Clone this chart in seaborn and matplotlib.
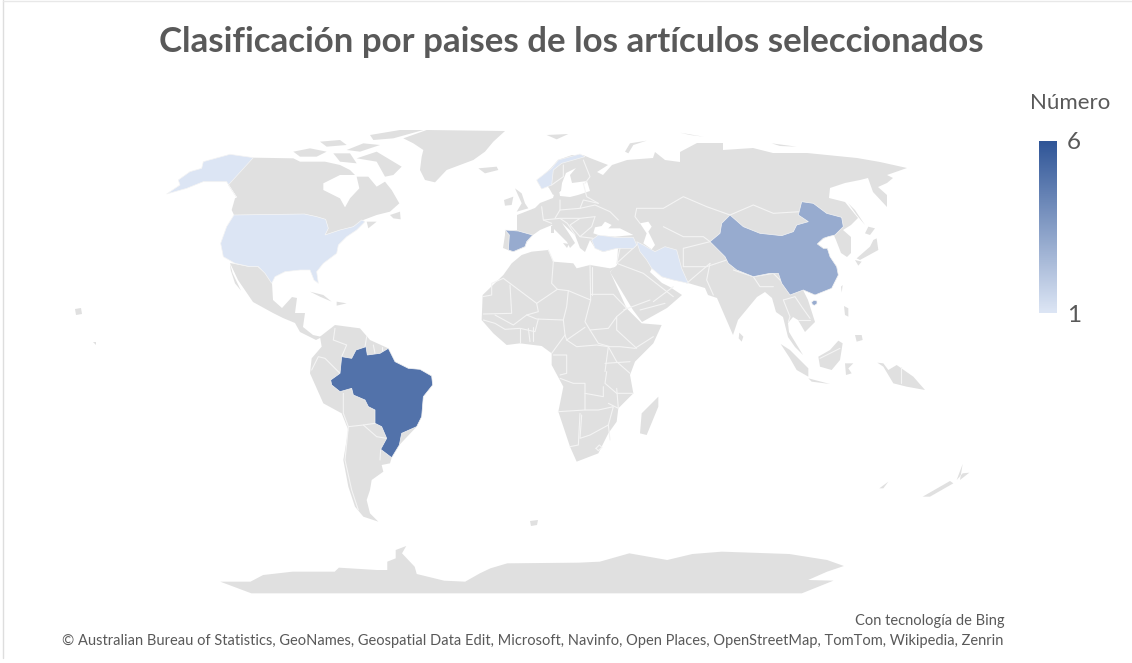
import numpy as np
import matplotlib
matplotlib.use("Agg")
import matplotlib.pyplot as plt
from matplotlib.colors import Normalize
import seaborn as sns


def crop(x0, y0, pts, sx=3, sy=3):
    return [(x0 + a / sx, y0 + b / sy) for a, b in pts]


TITLE = "Clasificación por paises de los artículos seleccionados"
LEGEND_TITLE = "Número"
LEGEND_TICKS = ["6", "1"]
BING = "Con tecnología de Bing"
CREDITS = ("© Australian Bureau of Statistics, GeoNames, Geospatial Data Edit, Microsoft, "
           "Navinfo, Open Places, OpenStreetMap, TomTom, Wikipedia, Zenrin")

countries = ["Brasil", "China", "España", "Estados Unidos", "Noruega", "Turquía", "Irán"]
articles = [5, 3, 3, 1, 1, 1, 1]
scale_min, scale_max = 1, 6

# --- selected countries ---
brazil = crop(280, 290, [(185, 200), (215, 205), (228, 180), (258, 170), (262, 195), (300, 190), (325, 175),
                         (345, 215), (385, 235), (420, 238), (455, 258), (458, 285), (430, 320), (425, 380),
                         (410, 410), (365, 430), (358, 465), (335, 503), (302, 478), (320, 445), (305, 410),
                         (285, 400), (285, 360), (265, 350), (255, 330), (220, 315), (215, 295), (180, 305),
                         (155, 285), (152, 270), (180, 250)])
china = crop(540, 120, [(570, 285), (610, 320), (660, 340), (725, 347), (760, 335), (770, 315), (805, 305),
                        (775, 285), (785, 245), (820, 250), (860, 280), (905, 292), (910, 320), (885, 345),
                        (865, 350), (850, 355), (832, 372), (850, 385), (862, 385), (870, 410), (890, 440),
                        (895, 465), (875, 505), (825, 525), (790, 510), (750, 525), (725, 490), (715, 460),
                        (690, 460), (640, 470), (590, 450), (565, 430), (555, 410), (510, 365), (540, 340),
                        (545, 310)])
hainan = crop(540, 120, [(815, 546), (822, 541), (831, 543), (831, 551), (824, 556), (817, 554)])
spain = crop(160, 120, [(1035, 330), (1075, 333), (1118, 345), (1100, 365), (1095, 380), (1060, 395), (1045, 390),
                        (1048, 345)])
usa = crop(160, 120, [(222, 285), (433, 282), (470, 290), (497, 298), (505, 325), (495, 345), (540, 330),
                      (580, 320), (605, 300), (615, 305), (590, 330), (560, 350), (535, 375), (530, 400),
                      (490, 430), (470, 455), (475, 490), (462, 480), (450, 450), (420, 450), (375, 455),
                      (345, 470), (335, 490), (315, 460), (295, 440), (270, 440), (225, 430), (190, 410),
                      (182, 370), (200, 320)])
alaska = crop(160, 120, [(280, 113), (210, 103), (130, 125), (125, 145), (90, 155), (55, 180), (60, 195),
                         (20, 222), (80, 205), (130, 185), (200, 185), (230, 232), (205, 195)])
norway = crop(480, 140, [(170, 120), (215, 85), (235, 60), (300, 42), (315, 50), (280, 60), (245, 70),
                         (220, 90), (215, 135), (185, 147)])
turkey = crop(540, 120, [(155, 360), (175, 345), (225, 352), (280, 352), (290, 375), (280, 385), (230, 385),
                         (190, 395), (165, 385)])
iran = crop(540, 120, [(290, 365), (310, 375), (345, 395), (375, 380), (410, 390), (425, 445), (445, 490),
                       (400, 480), (365, 470), (335, 445), (320, 420), (300, 395)])
selected = {"Brasil": [brazil], "China": [china, hainan], "España": [spain], "Estados Unidos": [usa, alaska],
            "Noruega": [norway], "Turquía": [turkey], "Irán": [iran]}

# --- rest of the land ---
eurasia = [(505, 231), (517, 230), (517, 220), (517, 215), (535, 208), (540, 203), (553, 198), (555, 191),
           (559, 190), (560, 196), (570, 197), (578, 195), (590, 191), (587, 181), (572, 183), (570, 175),
           (576, 168), (566, 173), (562, 183), (561, 191), (553, 195), (549, 188), (546, 185), (542, 189),
           (537, 181), (551, 168), (558, 160), (572, 155), (583, 155), (590, 158), (608, 165), (597, 172),
           (603, 175), (612, 165), (627, 160), (653, 158), (655, 152), (665, 160), (680, 162), (680, 152),
           (697, 143), (723, 143), (723, 150), (753, 148), (773, 153), (807, 153), (857, 158), (880, 162),
           (907, 168), (887, 175), (893, 178), (887, 183), (878, 187), (887, 195), (887, 207), (873, 192),
           (868, 178), (860, 180), (845, 183), (830, 188), (829, 198), (845, 202), (858, 218), (851, 225),
           (843, 230), (851, 237), (851, 253), (847, 257), (841, 253), (836, 240), (833, 233), (825, 238),
           (817, 243), (823, 248), (827, 248), (830, 257), (837, 267), (838, 275), (831, 288), (815, 295),
           (803, 290), (808, 300), (815, 322), (805, 332), (798, 320), (793, 317), (788, 323), (789, 332),
           (803, 355), (795, 347), (788, 337), (783, 317), (776, 312), (772, 298), (765, 292), (757, 297),
           (738, 320), (733, 335), (717, 298), (708, 295), (705, 288), (688, 283), (673, 280), (662, 277),
           (652, 268), (650, 272), (662, 283), (670, 287), (682, 295), (667, 308), (642, 322), (633, 310),
           (610, 272), (617, 265), (618, 248), (603, 252), (595, 248), (590, 240), (585, 252), (580, 248),
           (575, 235), (562, 223), (570, 235), (575, 243), (570, 248), (567, 242), (560, 235), (553, 228),
           (552, 225), (540, 230), (533, 235), (527, 242), (525, 247), (513, 252), (503, 248), (505, 235)]
africa = crop(470, 240, [(155, 45), (185, 35), (235, 30), (250, 65), (310, 70), (320, 85), (360, 75), (420, 85),
                         (440, 80), (420, 95), (470, 205), (515, 250), (575, 255), (550, 310), (495, 365),
                         (480, 405), (490, 460), (445, 505), (440, 545), (415, 580), (385, 640), (320, 665),
                         (300, 620), (265, 515), (280, 440), (245, 375), (245, 340), (215, 318), (150, 310),
                         (110, 315), (70, 280), (35, 240), (38, 165), (100, 105), (125, 70)])
south_america = crop(280, 290, [(165, 105), (240, 115), (270, 150), (325, 175), (345, 215), (385, 235),
                                (455, 258), (430, 320), (410, 410), (358, 465), (335, 503), (330, 520),
                                (305, 525), (310, 545), (275, 570), (270, 600), (260, 630), (270, 670),
                                (295, 695), (250, 680), (225, 650), (205, 590), (190, 510), (205, 420),
                                (185, 370), (130, 340), (90, 250), (95, 205), (125, 170), (120, 140)])
middle_america = [(230, 263), (250, 267), (258, 267), (265, 273), (272, 283), (273, 300), (282, 308), (292, 297),
                  (297, 298), (295, 313), (305, 313), (303, 327), (313, 335), (322, 337), (316, 340), (300, 332),
                  (295, 323), (283, 318), (273, 313), (253, 302), (238, 280)]
baja = crop(160, 120, [(210, 430), (218, 460), (243, 512), (225, 490), (212, 450)])
canada = crop(160, 120, [(280, 113), (400, 115), (420, 125), (495, 125), (540, 135), (570, 150), (585, 165),
                         (540, 165), (490, 190), (490, 210), (540, 235), (555, 262), (570, 235), (598, 205),
                         (590, 170), (625, 170), (650, 200), (675, 185), (695, 210), (718, 250), (690, 275),
                         (650, 285), (610, 300), (580, 320), (540, 330), (495, 345), (505, 325), (497, 298),
                         (470, 290), (433, 282), (222, 285), (215, 270), (225, 235), (230, 232), (200, 185)])
greenland = crop(160, 120, [(730, 55), (800, 30), (1035, 33), (1000, 65), (975, 95), (940, 120), (860, 150),
                            (825, 187), (795, 180), (780, 150), (785, 110), (790, 90), (760, 70)])
antarctica = crop(200, 530, [(48, 155), (120, 155), (150, 135), (220, 125), (320, 125), (330, 113), (420, 120),
                             (445, 120), (445, 95), (465, 85), (465, 60), (490, 48), (480, 70), (510, 110),
                             (515, 132), (580, 152), (630, 155), (665, 130), (690, 115), (730, 100), (900, 98),
                             (950, 95), (1020, 70), (1110, 90), (1170, 72), (1240, 65), (1400, 72), (1490, 90),
                             (1530, 108), (1490, 125), (1445, 150), (1505, 152), (1430, 190), (122, 190)],
                  sx=2.376)
madagascar = crop(470, 240, [(565, 470), (565, 500), (530, 585), (510, 580), (515, 520)])
sri_lanka = crop(470, 240, [(808, 278), (820, 290), (815, 305), (806, 295)])
arctic = [crop(160, 120, p) for p in [
    [(590, 115), (650, 95), (700, 125), (725, 140), (700, 165), (675, 170), (650, 125)],
    [(400, 95), (450, 85), (500, 95), (470, 110), (420, 110)],
    [(480, 65), (540, 60), (560, 75), (500, 80)],
    [(560, 90), (610, 70), (660, 75), (600, 95)],
    [(630, 45), (720, 30), (790, 30), (700, 55), (640, 60)],
    [(520, 100), (570, 100), (590, 130), (540, 125)]]]
north_atlantic = [crop(160, 120, p) for p in [
    [(955, 145), (1010, 140), (1015, 150), (975, 160)],           # Iceland
    [(690, 285), (720, 275), (722, 298), (700, 295)],             # Newfoundland
    [(620, 305), (650, 305), (625, 325)],                         # Nova Scotia
    [(450, 515), (490, 525), (515, 545), (480, 530)],             # Cuba
    [(530, 545), (560, 550), (530, 557)]]]
british_isles = [crop(480, 140, p) for p in [
    [(105, 145), (125, 160), (135, 190), (145, 205), (110, 215), (125, 190)],
    [(72, 180), (100, 170), (95, 195), (75, 197)]]]
russian_arctic = [crop(540, 120, p) for p in [
    [(255, 95), (270, 70), (320, 62), (280, 75), (265, 100)],
    [(20, 45), (85, 42), (50, 58)],
    [(420, 38), (490, 50), (450, 45)],
    [(695, 70), (770, 80), (720, 78)]]]
japan = [crop(540, 120, p) for p in [
    [(1010, 355), (1015, 390), (960, 420), (950, 415), (990, 380), (1000, 360)],
    [(985, 320), (1005, 325), (990, 345), (975, 340)],
    [(945, 420), (965, 425), (955, 437)],
    [(925, 250), (945, 270), (975, 315), (950, 285)]]]
east_islands = [crop(740, 280, p) for p in [
    [(122, 192), (150, 210), (205, 265), (205, 290), (170, 270), (150, 235)],
    [(205, 295), (270, 312), (215, 305)],
    [(235, 230), (270, 210), (295, 182), (308, 190), (300, 240), (275, 270), (240, 260)],
    [(315, 250), (340, 250), (325, 265), (335, 280), (318, 285)],
    [(412, 248), (430, 250), (445, 270), (470, 255), (520, 290), (555, 330), (500, 320), (460, 310), (430, 260)],
    [(312, 78), (325, 85), (325, 110), (315, 105)],
    [(345, 165), (365, 165), (368, 180), (350, 185)],
    [(303, 20), (308, 15), (305, 38)],
    [(418, 625), (445, 605), (430, 625)],
    [(548, 650), (630, 603), (640, 610), (570, 650)],
    [(650, 600), (668, 580), (688, 578), (660, 600), (668, 552)]]]
small_islands = [
    [(75, 309), (81, 308), (82, 314), (76, 315)],                 # Hawaii
    [(93, 342), (96, 342), (96, 345)],
    [(530, 521), (538, 520), (537, 525), (531, 526)],             # South Atlantic
    [(551, 226), (554, 226), (554, 233), (551, 233)],             # Sardinia, Corsica
    [(563, 243), (569, 244), (567, 248)]]                         # Sicily
black_sea = crop(540, 120, [(160, 340), (165, 322), (185, 318), (195, 305), (215, 315), (205, 325), (240, 325),
                            (280, 345), (225, 350), (175, 345)])
caspian = crop(540, 120, [(300, 310), (325, 305), (335, 320), (325, 335), (345, 375), (335, 388), (310, 370),
                          (320, 340)])

land = ([eurasia, africa, south_america, middle_america, baja, canada, greenland, antarctica, madagascar, sri_lanka]
        + arctic + north_atlantic + british_isles + russian_arctic + japan + east_islands + small_islands)

# --- borders inside the land ---
africa_borders = [crop(470, 240, p) for p in [
    [(235, 30), (250, 65), (245, 130), (262, 148)], [(100, 115), (200, 190), (262, 148)],
    [(100, 115), (65, 130), (65, 165), (38, 170)], [(120, 135), (125, 220), (40, 222)],
    [(200, 190), (205, 215), (170, 225), (130, 255), (75, 225)], [(360, 75), (362, 180), (295, 152), (262, 148)],
    [(362, 163), (430, 163), (470, 205)], [(295, 152), (290, 200), (280, 240), (200, 237), (170, 225)],
    [(205, 237), (195, 275), (150, 265), (105, 268), (75, 250), (40, 240)], [(150, 265), (150, 310)],
    [(175, 265), (180, 305)], [(190, 262), (190, 303)], [(280, 240), (285, 285), (245, 340)],
    [(362, 180), (345, 245), (360, 270), (415, 265), (440, 230), (470, 205)],
    [(360, 270), (385, 310), (420, 320), (450, 320), (495, 325), (550, 290)],
    [(290, 300), (320, 320), (380, 315), (415, 320), (405, 395)], [(290, 300), (285, 285)],
    [(345, 262), (290, 300)], [(440, 230), (440, 270), (500, 325)], [(415, 320), (440, 365), (480, 400)],
    [(405, 370), (480, 365)], [(410, 395), (405, 430), (440, 460), (490, 460)],
    [(270, 415), (310, 430), (345, 430), (345, 460), (400, 470), (400, 440)], [(345, 460), (345, 510), (265, 515)],
    [(345, 510), (385, 510), (430, 500), (415, 555)], [(330, 520), (325, 615), (300, 620)],
    [(335, 525), (330, 595), (360, 585), (415, 555), (420, 600)], [(440, 445), (445, 505), (415, 490)],
    [(250, 345), (290, 345), (290, 400), (270, 405)], [(510, 210), (585, 190)],
    [(378, 625), (388, 615), (396, 622), (385, 632), (378, 625)]]]
asia_borders = [crop(540, 120, p) for p in [
    [(290, 265), (370, 265), (430, 230), (500, 260), (570, 285)], [(570, 285), (640, 255), (700, 280), (780, 275)],
    [(290, 265), (285, 290), (300, 310)], [(370, 320), (430, 350), (490, 350), (510, 365)],
    [(430, 385), (510, 365)], [(430, 385), (430, 440), (500, 440), (560, 420)], [(440, 490), (510, 430)],
    [(510, 430), (500, 480), (520, 525)], [(580, 450), (640, 470), (700, 460), (730, 490)],
    [(240, 385), (230, 430), (290, 375)], [(230, 430), (310, 460), (400, 530)], [(155, 440), (155, 525)],
    [(340, 545), (400, 500)], [(250, 570), (330, 540)], [(640, 470), (660, 500), (700, 500)]]]
europe_borders = [crop(480, 140, p) for p in [
    [(185, 200), (190, 240), (215, 250)], [(240, 180), (240, 210), (300, 205), (310, 180), (355, 190)],
    [(190, 240), (240, 235), (300, 235), (345, 230)], [(240, 210), (225, 235)],
    [(300, 205), (345, 195), (390, 215), (415, 240)], [(240, 235), (262, 250), (285, 285)],
    [(300, 235), (270, 255), (300, 290)], [(345, 230), (335, 260), (300, 290)],
    [(300, 290), (340, 295)], [(310, 130), (320, 170), (355, 190)], [(310, 60), (330, 110), (315, 130)],
    [(250, 75), (250, 110), (215, 135)]]]
south_america_borders = [crop(280, 290, p) for p in [
    [(165, 115), (160, 150), (200, 165), (185, 200)], [(260, 140), (255, 170)], [(280, 165), (285, 190)],
    [(305, 170), (305, 190)], [(95, 240), (115, 200), (135, 205), (180, 250)], [(190, 310), (190, 370), (205, 410)],
    [(205, 410), (250, 405), (285, 400)], [(250, 405), (290, 440), (320, 445)],
    [(205, 410), (195, 510), (215, 600), (235, 660)], [(302, 478), (300, 510)]]]
asia_se_borders = [crop(740, 280, p) for p in [
    [(130, 60), (150, 110), (145, 125)], [(130, 60), (165, 50), (185, 80), (210, 115)], [(175, 120), (210, 120)],
    [(240, 235), (300, 205)], [(482, 262), (482, 310)]]]
borders = africa_borders + asia_borders + europe_borders + south_america_borders + asia_se_borders

sns.set_theme(style="white")
plt.rcParams["font.family"] = ["Lato", "DejaVu Sans"]
text_color = "#595959"
land_color = "#E0E0E0"
cmap = sns.blend_palette(["#DCE5F4", "#2F5597"], as_cmap=True)
norm = Normalize(scale_min, scale_max)

fig = plt.figure(figsize=(11.32, 6.63), dpi=100)
ax = fig.add_axes([0, 0, 1, 1])
ax.set_xlim(0, 1132)
ax.set_ylim(663, 0)
ax.axis("off")

for shape in land:
    xs, ys = zip(*shape)
    ax.fill(xs, ys, color=land_color, ec="none", zorder=1)
for line in borders:
    xs, ys = zip(*line)
    ax.plot(xs, ys, color="#F4F4F4", lw=0.8, zorder=2)
for name, value in zip(countries, articles):
    for shape in selected[name]:
        xs, ys = zip(*shape)
        ax.fill(xs, ys, fc=cmap(norm(value)), ec="#F4F4F4", lw=0.5, zorder=3)
for sea in [black_sea, caspian]:
    xs, ys = zip(*sea)
    ax.fill(xs, ys, color="white", ec="none", zorder=4)

# frame of the chart area
ax.plot([3, 3], [0, 658], color="#DEDEDE", lw=1, zorder=0)
ax.plot([3, 1132], [0.5, 0.5], color="#E8E8E8", lw=1, zorder=0)

ax.text(571, 42, TITLE, ha="center", va="center", fontsize=25.1, fontweight="bold", color=text_color)
ax.text(1070, 103, LEGEND_TITLE, ha="center", va="center", fontsize=16, color=text_color)
ax.text(1005, 621, BING, ha="right", va="center", fontsize=10.5, color=text_color)
ax.text(62, 641, CREDITS, ha="left", va="center", fontsize=10.5, color=text_color)

# legend gradient
bar = fig.add_axes([1039 / 1132, 1 - 313 / 663, 18 / 1132, 172 / 663])
gradient = np.linspace(scale_max, scale_min, 172).reshape(-1, 1)
sns.heatmap(gradient, ax=bar, cmap=cmap, vmin=scale_min, vmax=scale_max, cbar=False, xticklabels=False)
bar.yaxis.tick_right()
bar.set_yticks([0, 172], LEGEND_TICKS, rotation=0, fontsize=17.5, color=text_color)
bar.tick_params(axis="y", length=0, pad=7)

fig.savefig("out.png", dpi=100)
